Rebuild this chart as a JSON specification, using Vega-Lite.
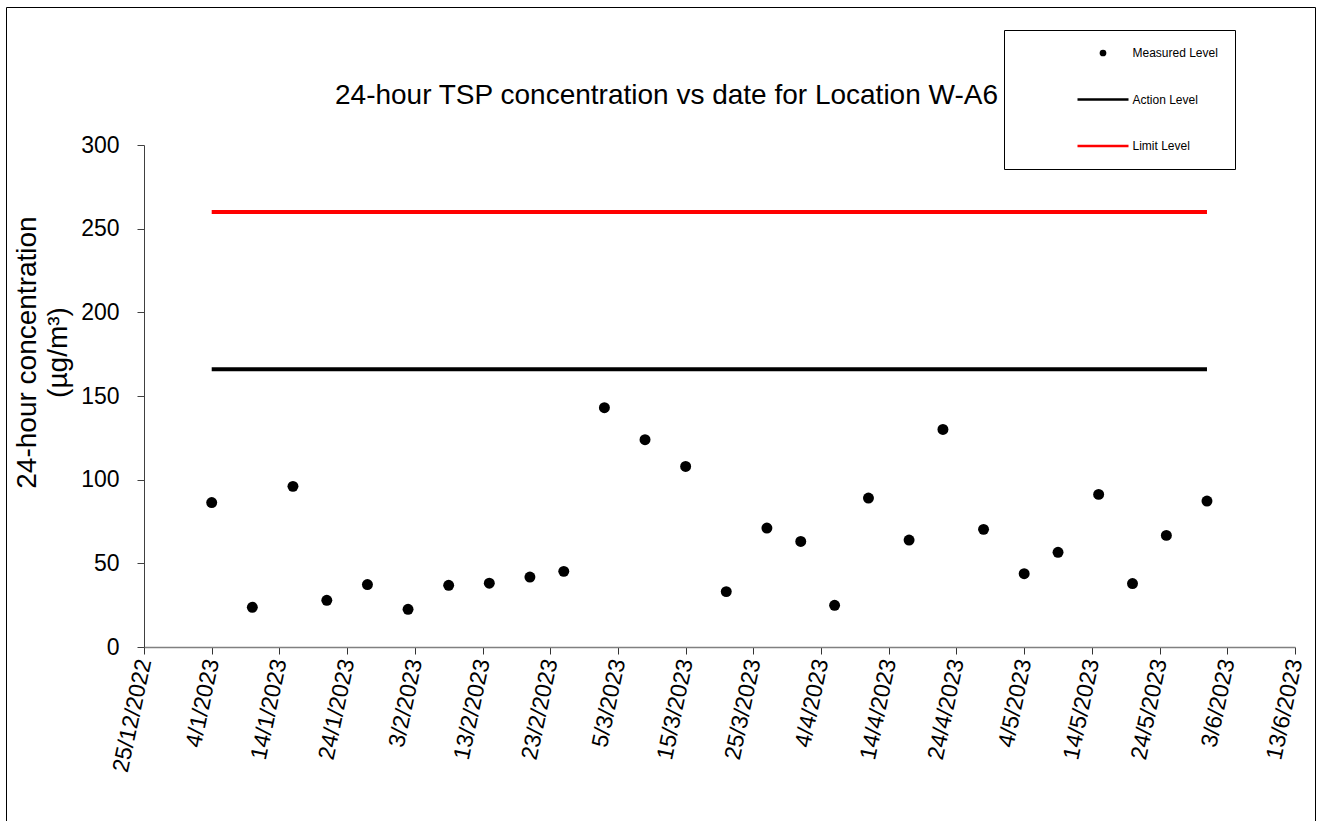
{
  "$schema": "https://vega.github.io/schema/vega-lite/v6.json",
  "width": 1309,
  "height": 814,
  "padding": {"left": 6, "top": 7, "right": 4, "bottom": 0},
  "autosize": {"type": "none"},
  "background": "#ffffff",
  "config": {
    "view": {"stroke": "#000000", "strokeWidth": 1, "fill": "#ffffff"},
    "font": "Liberation Sans"
  },
  "title": {
    "text": "24-hour TSP concentration vs date for Location W-A6",
    "anchor": "middle",
    "frame": "group",
    "orient": "top",
    "offset": 0,
    "dy": 125,
    "dx": 6,
    "baseline": "alphabetic",
    "fontSize": 28,
    "fontWeight": "normal",
    "font": "Liberation Sans",
    "color": "#000000"
  },
  "datasets": {
    "measured": [
      {"date": "2023-01-04", "value": 86.3, "series": "Measured Level"},
      {"date": "2023-01-10", "value": 23.7, "series": "Measured Level"},
      {"date": "2023-01-16", "value": 96.0, "series": "Measured Level"},
      {"date": "2023-01-21", "value": 27.9, "series": "Measured Level"},
      {"date": "2023-01-27", "value": 37.3, "series": "Measured Level"},
      {"date": "2023-02-02", "value": 22.5, "series": "Measured Level"},
      {"date": "2023-02-08", "value": 36.9, "series": "Measured Level"},
      {"date": "2023-02-14", "value": 38.1, "series": "Measured Level"},
      {"date": "2023-02-20", "value": 41.8, "series": "Measured Level"},
      {"date": "2023-02-25", "value": 45.2, "series": "Measured Level"},
      {"date": "2023-03-03", "value": 143.0, "series": "Measured Level"},
      {"date": "2023-03-09", "value": 123.9, "series": "Measured Level"},
      {"date": "2023-03-15", "value": 107.9, "series": "Measured Level"},
      {"date": "2023-03-21", "value": 33.1, "series": "Measured Level"},
      {"date": "2023-03-27", "value": 71.1, "series": "Measured Level"},
      {"date": "2023-04-01", "value": 63.1, "series": "Measured Level"},
      {"date": "2023-04-06", "value": 24.9, "series": "Measured Level"},
      {"date": "2023-04-11", "value": 89.0, "series": "Measured Level"},
      {"date": "2023-04-17", "value": 63.9, "series": "Measured Level"},
      {"date": "2023-04-22", "value": 130.0, "series": "Measured Level"},
      {"date": "2023-04-28", "value": 70.3, "series": "Measured Level"},
      {"date": "2023-05-04", "value": 43.8, "series": "Measured Level"},
      {"date": "2023-05-09", "value": 56.6, "series": "Measured Level"},
      {"date": "2023-05-15", "value": 91.2, "series": "Measured Level"},
      {"date": "2023-05-20", "value": 37.9, "series": "Measured Level"},
      {"date": "2023-05-25", "value": 66.7, "series": "Measured Level"},
      {"date": "2023-05-31", "value": 87.2, "series": "Measured Level"}
    ],
    "levels": [
      {"start": "2023-01-04", "end": "2023-05-31", "value": 166, "series": "Action Level"},
      {"start": "2023-01-04", "end": "2023-05-31", "value": 260, "series": "Limit Level"}
    ]
  },
  "layer": [
    {
      "data": {"name": "levels"},
      "mark": {"type": "rule", "strokeWidth": 4},
      "encoding": {
        "x": {
          "field": "start",
          "type": "temporal",
          "scale": {"type": "utc", "domain": [{"year": 2022, "month": 12, "date": 25, "utc": true}, {"year": 2023, "month": 6, "date": 13, "utc": true}], "range": [138, 1289], "nice": false},
          "axis": {
            "orient": "bottom",
            "offset": -174,
            "title": null,
            "grid": false,
            "values": [
              {"year": 2022, "month": 12, "date": 25, "utc": true},
              {"year": 2023, "month": 1, "date": 4, "utc": true},
              {"year": 2023, "month": 1, "date": 14, "utc": true},
              {"year": 2023, "month": 1, "date": 24, "utc": true},
              {"year": 2023, "month": 2, "date": 3, "utc": true},
              {"year": 2023, "month": 2, "date": 13, "utc": true},
              {"year": 2023, "month": 2, "date": 23, "utc": true},
              {"year": 2023, "month": 3, "date": 5, "utc": true},
              {"year": 2023, "month": 3, "date": 15, "utc": true},
              {"year": 2023, "month": 3, "date": 25, "utc": true},
              {"year": 2023, "month": 4, "date": 4, "utc": true},
              {"year": 2023, "month": 4, "date": 14, "utc": true},
              {"year": 2023, "month": 4, "date": 24, "utc": true},
              {"year": 2023, "month": 5, "date": 4, "utc": true},
              {"year": 2023, "month": 5, "date": 14, "utc": true},
              {"year": 2023, "month": 5, "date": 24, "utc": true},
              {"year": 2023, "month": 6, "date": 3, "utc": true},
              {"year": 2023, "month": 6, "date": 13, "utc": true}
            ],
            "format": "%-d/%-m/%Y",
            "labelAngle": -78,
            "labelAlign": "right",
            "labelBaseline": "middle",
            "labelFontSize": 23,
            "labelColor": "#000000",
            "labelPadding": 5,
            "labelOverlap": false,
            "labelFlush": false,
            "labelBound": false,
            "tickSize": 7,
            "tickColor": "#333333",
            "domainColor": "#808080",
            "domainWidth": 1.5
          }
        },
        "x2": {"field": "end"},
        "y": {
          "field": "value",
          "type": "quantitative",
          "scale": {"domain": [0, 300], "range": [640, 138], "nice": false, "zero": true},
          "axis": {
            "orient": "left",
            "offset": -138,
            "grid": false,
            "values": [0, 50, 100, 150, 200, 250, 300],
            "labelFontSize": 23,
            "labelColor": "#000000",
            "labelPadding": 18,
            "tickSize": 7,
            "tickColor": "#404040",
            "domainColor": "#404040",
            "title": ["24-hour concentration", "(µg/m³)"],
            "titleFontSize": 28,
            "titleFontWeight": "normal",
            "titleColor": "#000000",
            "titleX": -117,
            "titleY": 345,
            "titleAngle": -90,
            "titleAlign": "center",
            "titleBaseline": "middle",
            "titleLineHeight": 31
          }
        },
        "color": {
          "field": "series",
          "type": "nominal",
          "scale": {"domain": ["Measured Level", "Action Level", "Limit Level"], "range": ["#000000", "#000000", "#ff0000"]},
          "legend": {
            "title": null,
            "orient": "none",
            "legendX": 998,
            "legendY": 23,
            "padding": 17,
            "strokeColor": "#000000",
            "fillColor": "#ffffff",
            "symbolType": "stroke",
            "symbolSize": 2601,
            "symbolStrokeWidth": 2.5,
            "clipHeight": 12,
            "rowPadding": 34.5,
            "symbolOffset": 76,
            "labelOffset": 23.5,
            "labelFontSize": 12,
            "labelColor": "#000000",
            "encode": {
              "symbols": {
                "update": {
                  "shape": {"signal": "datum.value === 'Measured Level' ? 'circle' : 'stroke'"},
                  "size": {"signal": "datum.value === 'Measured Level' ? 45 : 2601"},
                  "fill": {"signal": "datum.value === 'Measured Level' ? '#000000' : 'transparent'"},
                  "stroke": {"signal": "datum.value === 'Limit Level' ? '#ff0000' : (datum.value === 'Measured Level' ? 'transparent' : '#000000')"},
                  "strokeWidth": {"signal": "datum.value === 'Measured Level' ? 0 : 2.5"},
                  "opacity": {"value": 1}
                }
              }
            }
          }
        }
      }
    },
    {
      "data": {"name": "measured"},
      "mark": {"type": "point", "filled": true, "size": 120, "opacity": 1},
      "encoding": {
        "x": {"field": "date", "type": "temporal"},
        "y": {"field": "value", "type": "quantitative"},
        "color": {"field": "series", "type": "nominal"}
      }
    }
  ]
}
